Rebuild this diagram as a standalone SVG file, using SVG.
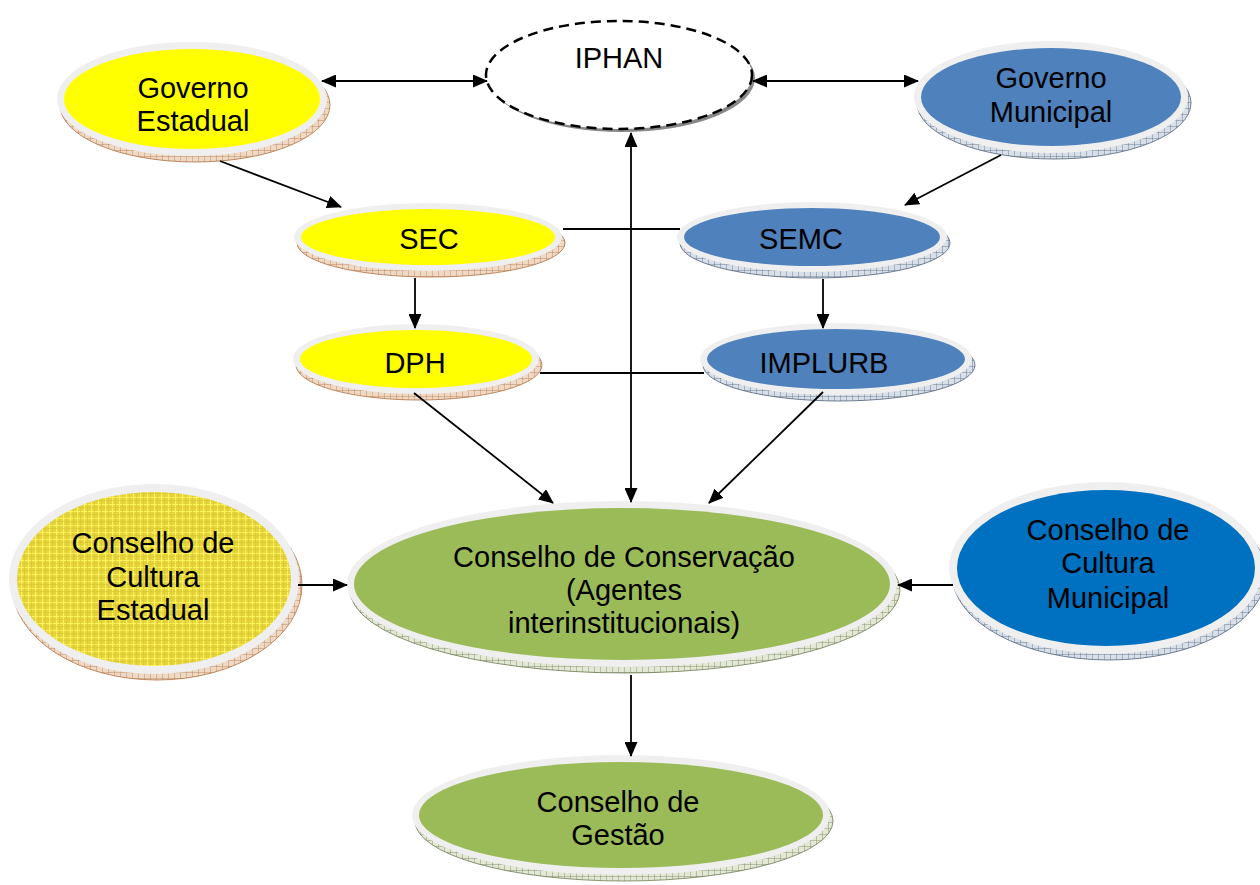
<svg xmlns="http://www.w3.org/2000/svg" width="1260" height="885" viewBox="0 0 1260 885">
<defs>
<pattern id="hb" width="6" height="6" patternUnits="userSpaceOnUse"><rect width="6" height="6" fill="#efd9c4"/><path d="M0 0H6M0 0V6" stroke="#b5784c" stroke-width="0.8"/></pattern>
<pattern id="hbl" width="6" height="6" patternUnits="userSpaceOnUse"><rect width="6" height="6" fill="#d8dfe8"/><path d="M0 0H6M0 0V6" stroke="#56687e" stroke-width="0.8"/></pattern>
<pattern id="hg" width="6" height="6" patternUnits="userSpaceOnUse"><rect width="6" height="6" fill="#e2e8d4"/><path d="M0 0H6M0 0V6" stroke="#74805c" stroke-width="0.8"/></pattern>
<pattern id="grid" width="7" height="7" patternUnits="userSpaceOnUse"><rect width="7" height="7" fill="#e6d43c"/><path d="M0 0.5H7M0.5 0V7" stroke="#fff55a" stroke-width="1.2"/><path d="M0 3.5H7M3.5 0V7" stroke="#d8c634" stroke-width="0.6"/></pattern>
<marker id="ah" viewBox="0 0 15 13" refX="14" refY="6.5" markerWidth="15" markerHeight="13" markerUnits="userSpaceOnUse" orient="auto-start-reverse"><path d="M0 0L15 6.5L0 13Z" fill="#000"/></marker>
</defs>
<style>
.t{font-family:"Liberation Sans",Arial,sans-serif;font-size:29px;fill:#000;text-anchor:middle}
.rim{fill:#efefef}
.ln{stroke:#000;stroke-width:1.8;fill:none}
.ar{stroke:#000;stroke-width:1.8;fill:none;marker-end:url(#ah)}
.ar2{stroke:#000;stroke-width:1.8;fill:none;marker-start:url(#ah);marker-end:url(#ah)}
</style>
<rect width="1260" height="885" fill="#fff"/>

<g id="governo-estadual">
<ellipse cx="195" cy="105" rx="135" ry="57" fill="url(#hb)" stroke="#b0703f" stroke-width="0.8"/>
<ellipse class="rim" cx="192" cy="99" rx="135" ry="57"/>
<ellipse cx="192" cy="99" rx="128" ry="50" fill="#ffff00"/>
<text class="t" x="193" y="98">Governo</text>
<text class="t" x="193" y="131">Estadual</text>
</g>

<g id="iphan">
<ellipse cx="622" cy="78" rx="133" ry="54" fill="#888"/>
<ellipse cx="619" cy="75" rx="133" ry="54" fill="#fff" stroke="#000" stroke-width="2.5" stroke-dasharray="10 6"/>
<text class="t" x="619" y="68">IPHAN</text>
</g>

<g id="governo-municipal">
<ellipse cx="1054" cy="103" rx="137" ry="56" fill="url(#hbl)" stroke="#4e6078" stroke-width="0.8"/>
<ellipse class="rim" cx="1051" cy="97" rx="137" ry="56"/>
<ellipse cx="1051" cy="97" rx="130" ry="49" fill="#4f81bd"/>
<text class="t" x="1051" y="88">Governo</text>
<text class="t" x="1051" y="122">Municipal</text>
</g>

<g id="sec">
<ellipse cx="431" cy="243" rx="134" ry="34" fill="url(#hb)" stroke="#b0703f" stroke-width="0.8"/>
<ellipse class="rim" cx="428" cy="237" rx="134" ry="34"/>
<ellipse cx="428" cy="237" rx="127" ry="28" fill="#ffff00"/>
<text class="t" x="429" y="249">SEC</text>
</g>

<g id="semc">
<ellipse cx="815" cy="243" rx="135" ry="35" fill="url(#hbl)" stroke="#4e6078" stroke-width="0.8"/>
<ellipse class="rim" cx="812" cy="237" rx="135" ry="35"/>
<ellipse cx="812" cy="237" rx="128" ry="29" fill="#4f81bd"/>
<text class="t" x="801" y="249">SEMC</text>
</g>

<g id="dph">
<ellipse cx="419" cy="365" rx="123" ry="35" fill="url(#hb)" stroke="#b0703f" stroke-width="0.8"/>
<ellipse class="rim" cx="416" cy="359" rx="123" ry="35"/>
<ellipse cx="416" cy="359" rx="116" ry="29" fill="#ffff00"/>
<text class="t" x="415" y="373">DPH</text>
</g>

<g id="implurb">
<ellipse cx="839" cy="365" rx="136" ry="36" fill="url(#hbl)" stroke="#4e6078" stroke-width="0.8"/>
<ellipse class="rim" cx="836" cy="359" rx="136" ry="36"/>
<ellipse cx="836" cy="359" rx="129" ry="30" fill="#4f81bd"/>
<text class="t" x="824" y="373">IMPLURB</text>
</g>

<g id="conselho-cultura-estadual">
<ellipse cx="157" cy="585" rx="145" ry="95" fill="url(#hb)" stroke="#b0703f" stroke-width="0.8"/>
<ellipse class="rim" cx="154" cy="579" rx="145" ry="95"/>
<ellipse cx="154" cy="579" rx="137" ry="87" fill="url(#grid)"/>
<text class="t" x="153" y="553">Conselho de</text>
<text class="t" x="153" y="587">Cultura</text>
<text class="t" x="153" y="620">Estadual</text>
</g>

<g id="conselho-conservacao">
<ellipse cx="625" cy="590" rx="275" ry="83" fill="url(#hg)" stroke="#6c7a52" stroke-width="0.8"/>
<ellipse class="rim" cx="622" cy="584" rx="275" ry="83"/>
<ellipse cx="622" cy="584" rx="268" ry="76" fill="#9bbb59"/>
<text class="t" x="624" y="567">Conselho de Conservação</text>
<text class="t" x="624" y="600">(Agentes</text>
<text class="t" x="624" y="633">interinstitucionais)</text>
</g>

<g id="conselho-cultura-municipal">
<ellipse cx="1109" cy="574" rx="157" ry="86" fill="url(#hbl)" stroke="#4e6078" stroke-width="0.8"/>
<ellipse class="rim" cx="1106" cy="568" rx="157" ry="86"/>
<ellipse cx="1106" cy="568" rx="149" ry="78" fill="#0070c0"/>
<text class="t" x="1108" y="540">Conselho de</text>
<text class="t" x="1108" y="573">Cultura</text>
<text class="t" x="1108" y="608">Municipal</text>
</g>

<g id="conselho-gestao">
<ellipse cx="624" cy="821" rx="209" ry="60" fill="url(#hg)" stroke="#6c7a52" stroke-width="0.8"/>
<ellipse class="rim" cx="621" cy="815" rx="209" ry="60"/>
<ellipse cx="621" cy="815" rx="202" ry="53" fill="#9bbb59"/>
<text class="t" x="618" y="812">Conselho de</text>
<text class="t" x="618" y="845">Gestão</text>
</g>

<g id="connectors">
<line class="ar2" x1="322" y1="81" x2="487" y2="81"/>
<line class="ar2" x1="753" y1="81" x2="918" y2="81"/>
<line class="ar2" x1="631" y1="133" x2="631" y2="502"/>
<line class="ar" x1="220" y1="161" x2="341" y2="207"/>
<line class="ar" x1="1001" y1="155" x2="905" y2="205"/>
<line class="ln" x1="563" y1="229" x2="680" y2="229"/>
<line class="ar" x1="415" y1="278" x2="415" y2="328"/>
<line class="ar" x1="823" y1="279" x2="823" y2="328"/>
<line class="ln" x1="540" y1="373" x2="704" y2="373"/>
<line class="ar" x1="414" y1="393" x2="553" y2="503"/>
<line class="ar" x1="823" y1="392" x2="709" y2="503"/>
<line class="ar" x1="298" y1="585" x2="347" y2="585"/>
<line class="ar" x1="953" y1="585" x2="898" y2="585"/>
<line class="ar" x1="631" y1="675" x2="631" y2="756"/>
</g>
</svg>
